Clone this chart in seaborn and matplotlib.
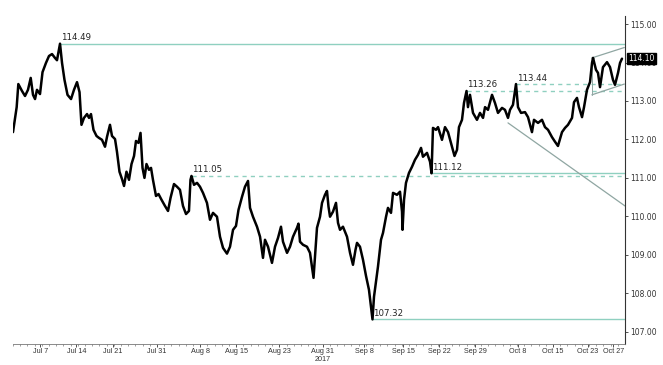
import numpy as np
import pandas as pd
import matplotlib
matplotlib.use("Agg")
import matplotlib.pyplot as plt
import seaborn as sns

# ---- data: trading-day index (0 = Jul 3 2017) and USDJPY price ----
day = [0.0, 0.51, 0.74, 1.25, 1.67, 2.08, 2.46, 2.78, 3.06, 3.33, 3.75, 4.10, 4.58, 5.0, 5.42,
       5.83, 6.11, 6.53, 6.81, 7.15, 7.57, 8.06, 8.47, 8.89, 9.24, 9.51, 9.86, 10.28, 10.56,
       10.83, 11.18, 11.60, 11.94, 12.36, 12.78, 13.06, 13.47, 13.75, 14.17, 14.44, 14.79,
       15.14, 15.42, 15.76, 16.11, 16.46, 16.81, 17.08, 17.43, 17.71, 17.99, 18.26, 18.54,
       18.89, 19.17, 19.44, 19.86, 20.21, 20.63, 21.11, 21.53, 21.88, 22.36, 22.78, 23.19,
       23.61, 24.03, 24.44, 24.65, 24.79, 25.14, 25.56, 25.97, 26.39, 26.94, 27.36, 27.78,
       28.33, 28.75, 29.17, 29.72, 30.14, 30.56, 30.97, 31.32, 31.81, 32.22, 32.64, 32.92,
       33.33, 33.89, 34.31, 34.72, 35.0, 35.42, 35.97, 36.39, 36.81, 37.22, 37.50, 38.06,
       38.47, 38.89, 39.44, 39.65, 39.86, 40.28, 40.83, 41.25, 41.53, 41.74, 41.94, 42.22,
       42.64, 42.92, 43.33, 43.61, 43.82, 44.03, 44.44, 44.86, 45.14, 45.42, 45.83, 46.39,
       46.81, 47.22, 47.57, 47.78, 48.19, 48.61, 49.03, 49.44, 49.72, 49.93, 50.14, 50.42,
       50.69, 51.11, 51.39, 51.81, 52.08, 52.50, 52.78, 53.33, 53.75, 54.03, 54.10, 54.31,
       54.58, 55.0, 55.42, 55.83, 56.25, 56.67, 56.94, 57.50, 57.92, 58.13, 58.33, 58.75,
       59.03, 59.58, 60.0, 60.42, 60.97, 61.32, 61.67, 61.94, 62.36, 62.64, 62.99, 63.19,
       63.47, 63.89, 64.44, 64.86, 65.28, 65.56, 65.97, 66.53, 66.94, 67.36, 67.92, 68.33,
       68.75, 69.03, 69.44, 69.86, 70.14, 70.56, 71.11, 71.53, 72.08, 72.36, 72.92, 73.47,
       73.89, 74.31, 74.86, 75.28, 75.69, 76.25, 76.67, 77.08, 77.64, 77.92, 78.33, 78.61,
       79.03, 79.31, 79.72, 80.14, 80.42, 80.56, 80.97, 81.25, 81.53, 81.94, 82.50, 82.92,
       83.33, 83.61, 84.03, 84.31, 84.58]
price = [112.19, 112.84, 113.44, 113.26, 113.13, 113.29, 113.60, 113.16, 113.05, 113.29, 113.18,
         113.75, 113.99, 114.17, 114.22, 114.12, 114.06, 114.49, 113.99, 113.55, 113.16, 113.05,
         113.29, 113.49, 113.23, 112.38, 112.56, 112.66, 112.56, 112.66, 112.25, 112.09, 112.04,
         111.99, 111.81, 112.07, 112.38, 112.09, 112.01, 111.68, 111.16, 110.97, 110.79, 111.16,
         110.95, 111.36, 111.57, 111.96, 111.91, 112.17, 111.26, 111.00, 111.36, 111.21, 111.26,
         110.95, 110.53, 110.58, 110.43, 110.27, 110.14, 110.48, 110.84, 110.77, 110.69, 110.27,
         110.06, 110.14, 110.95, 111.05, 110.82, 110.87, 110.77, 110.61, 110.35, 109.91, 110.09,
         109.99, 109.47, 109.18, 109.03, 109.21, 109.65, 109.75, 110.17, 110.51, 110.77, 110.92,
         110.22, 109.99, 109.73, 109.47, 108.92, 109.39, 109.21, 108.79, 109.21, 109.44, 109.73,
         109.34, 109.05, 109.21, 109.47, 109.70, 109.81, 109.34, 109.26, 109.21, 109.05, 108.69,
         108.40, 108.95, 109.70, 109.99, 110.35, 110.56, 110.66, 110.25, 109.99, 110.12, 110.35,
         109.83, 109.65, 109.73, 109.47, 109.05, 108.74, 109.13, 109.31, 109.21, 108.87, 108.45,
         108.09, 107.65, 107.32, 107.91, 108.30, 108.69, 109.39, 109.57, 109.99, 110.22, 110.09,
         110.61, 110.56, 110.64, 110.12, 109.65, 110.43, 110.87, 111.13, 111.29, 111.47, 111.60,
         111.78, 111.55, 111.65, 111.42, 111.12, 112.30, 112.25, 112.32, 111.99, 112.32, 112.19,
         111.81, 111.57, 111.73, 112.32, 112.51, 112.95, 113.26, 112.84, 113.16, 112.69, 112.51,
         112.69, 112.56, 112.84, 112.77, 113.16, 112.95, 112.69, 112.82, 112.77, 112.56, 112.77,
         112.90, 113.44, 112.84, 112.69, 112.71, 112.58, 112.19, 112.51, 112.43, 112.51, 112.32,
         112.25, 112.06, 111.94, 111.83, 112.19, 112.30, 112.38, 112.56, 112.97, 113.08, 112.84,
         112.58, 112.84, 113.29, 113.49, 113.99, 114.12, 113.81, 113.73, 113.36, 113.88, 114.01,
         113.88, 113.55, 113.42, 113.73, 113.99, 114.10]

tick_labels = ["Jul 7", "Jul 14", "Jul 21", "Jul 31", "Aug 8", "Aug 15", "Aug 23", "Aug 31",
               "Sep 8", "Sep 15", "Sep 22", "Sep 29", "Oct 8", "Oct 15", "Oct 23", "Oct 27"]
tick_days = [3.8, 8.8, 13.9, 20.0, 26.0, 31.0, 37.0, 43.0, 48.8, 54.2, 59.2, 64.2, 70.1, 75.0, 79.8, 83.4]

# horizontal levels: value, start day, style, label
level_vals = [114.49, 111.05, 111.12, 113.26, 113.44, 107.32]
level_start = [6.53, 24.8, 58.1, 63.0, 69.86, 49.93]
level_dashed = [False, True, False, True, True, False]
level_text = ["114.49", "111.05", "111.12", "113.26", "113.44", "107.32"]

# trend lines (day, price pairs)
trend_day = [68.75, 85.0]
trend_price = [112.43, 110.27]
chan_up_day = [80.4, 84.9]
chan_up_price = [114.12, 114.39]
chan_lo_day = [80.4, 84.9]
chan_lo_price = [113.16, 113.44]
last_price = 114.10

sns.set_style("white")
plt.rcParams['font.family'] = ['DejaVu Sans']

fig = plt.figure(figsize=(6.63, 3.65), dpi=100)
ax = fig.add_axes([13/663, 21/365, (625-13)/663, (344-16)/365])

df = pd.DataFrame({"day": day, "price": price})
teal = "#8fd0c0"

xmax = 85.0
for v, s, d, t in zip(level_vals, level_start, level_dashed, level_text):
    ax.plot([s, xmax], [v, v], color=teal, lw=1.0,
            ls=(0, (3, 3)) if d else "-", zorder=1)
    ax.text(s + 0.1, v + 0.04, t, fontsize=6.2, color="#222222", ha="left", va="bottom", zorder=4)

ax.plot(trend_day, trend_price, color="#8fa6a2", lw=0.9, zorder=1)
ax.plot(chan_up_day, chan_up_price, color="#8fa6a2", lw=0.9, zorder=1)
ax.plot(chan_lo_day, chan_lo_price, color="#8fa6a2", lw=0.9, zorder=1)
ax.plot([chan_up_day[0], chan_lo_day[0]], [chan_up_price[0], chan_lo_price[0]], color="#8fa6a2", lw=0.7, zorder=1)

sns.lineplot(data=df, x="day", y="price", ax=ax, color="black", linewidth=1.8, zorder=3, sort=False)

ax.set_xlim(0, xmax)
ax.set_ylim(106.68, 115.21)
ax.yaxis.tick_right()
ax.set_yticks(np.arange(107, 115.01, 1.0))
ax.set_yticklabels([f"{v:.2f}" for v in np.arange(107, 115.01, 1.0)])
ax.set_xticks(tick_days)
ax.set_xticklabels(tick_labels, fontfamily="Liberation Sans")
ax.set_xticks(np.arange(0, 85, 1.0), minor=True)
ax.tick_params(axis="x", which="major", length=2, width=0.6, labelsize=5.2, pad=0.8, colors="#333333", bottom=True)
ax.tick_params(axis="x", which="minor", length=1.5, width=0.5, colors="#777777", bottom=True)
ax.tick_params(axis="y", which="major", length=2.5, width=0.6, labelsize=5.5, pad=1.5, colors="#333333", right=True, left=False)
ax.set_xlabel("")
ax.set_ylabel("")
for side in ["left", "top"]:
    ax.spines[side].set_visible(False)
ax.spines["right"].set_color("#333333")
ax.spines["right"].set_linewidth(0.8)
ax.spines["bottom"].set_color("#777777")
ax.spines["bottom"].set_linewidth(0.6)

ax.annotate("2017", xy=(43.0, 0), xycoords=("data", "axes fraction"),
            xytext=(0, -8.5), textcoords="offset points", fontsize=5.2,
            fontfamily="Liberation Sans", ha="center", va="top", color="#333333",
            annotation_clip=False)

ax.annotate(f"{last_price:.2f}", xy=(1.0, last_price), xycoords=("axes fraction", "data"),
            xytext=(2.5, 0), textcoords="offset points", fontsize=5.5, color="white",
            ha="left", va="center", zorder=6,
            bbox=dict(boxstyle="square,pad=0.15", fc="black", ec="black"),
            annotation_clip=False)

fig.savefig("out.png", dpi=100)
